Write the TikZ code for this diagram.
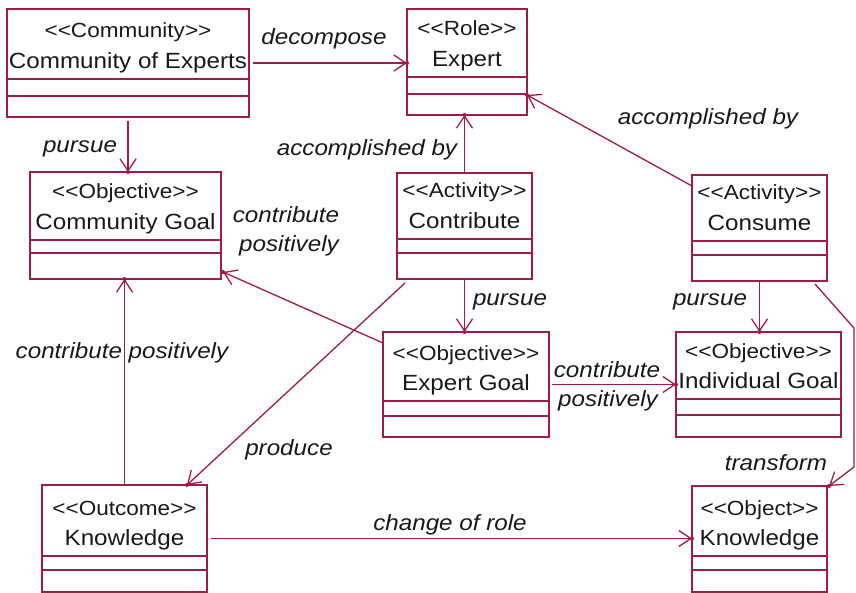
\documentclass[tikz,border=0pt]{standalone}
\usepackage{fontspec}
\setmainfont{Liberation Sans}[FakeStretch=1.1]
\usetikzlibrary{arrows.meta,decorations.markings}
\definecolor{umlred}{RGB}{160,28,72}
\definecolor{umltext}{RGB}{25,25,25}

\tikzset{
  classbox/.style={draw=umlred, line width=1.6pt, rectangle, inner sep=0pt, outer sep=0pt, anchor=north west},
  partline/.style={draw=umlred, line width=1.6pt},
  stereo/.style={anchor=base, inner sep=0pt, text=umltext, font=\fontsize{20.5}{22}\selectfont},
  classname/.style={anchor=base, inner sep=0pt, text=umltext, font=\fontsize{22}{24}\selectfont},
  assoc/.style={draw=umlred, line width=1.3pt, -{Straight Barb[length=12pt,width=16pt]},
    postaction={decorate},
    decoration={markings, mark=at position 1 with {\fill[umlred] circle (2pt);}}},
  role/.style={anchor=base, inner sep=0pt, text=umltext, font=\itshape\fontsize{22}{24}\selectfont},
}

% name, x1, y1, x2, y2, first divider, second divider, stereotype, class name
\newcommand\umlclass[9]{%
  \node[classbox, minimum width={(#4)-(#2)}, minimum height={(#5)-(#3)}] (#1) at (#2,#3) {};
  \draw[partline] (#2,#6) -- (#4,#6);
  \draw[partline] (#2,#7) -- (#4,#7);
  \node[stereo] (#1-st) at ({(#2+#4)/2},{#6-41}) {#8};
  \node[classname] (#1-nm) at ({(#2+#4)/2},{#6-10.5}) {#9};
}

\begin{document}
\begin{tikzpicture}[x=1pt,y=-1pt]
\fill[white] (0,0) rectangle (856,593);
\useasboundingbox (0,0) rectangle (856,593);

% classes
\umlclass{ce}{7}{9}{249}{117}{79}{96}{<{}<Community>{}>}{Community of Experts}
\umlclass{ex}{407}{9}{527}{115}{77}{94}{<{}<Role>{}>}{Expert}
\umlclass{cg}{30}{172}{221}{279}{240}{253}{<{}<Objective>{}>}{Community Goal}
\umlclass{co}{397}{173}{532}{279}{239}{253}{<{}<Activity>{}>}{Contribute}
\umlclass{cs}{692}{175}{827}{281}{241}{255}{<{}<Activity>{}>}{Consume}
\umlclass{eg}{383}{332}{549}{437}{401}{416}{<{}<Objective>{}>}{Expert Goal}
\umlclass{ig}{676}{332}{841}{437}{399}{415}{<{}<Objective>{}>}{Individual Goal}
\umlclass{ok}{692}{486}{827}{592}{556}{570}{<{}<Object>{}>}{Knowledge}
\umlclass{ou}{42}{485}{207}{592}{556}{570}{<{}<Outcome>{}>}{Knowledge}

% associations
\draw[assoc, shorten <=4pt] (ce.east) -- (ce.east -| ex.west);
\node[role] (l-dec) at (324,45) {decompose};

\draw[assoc, shorten <=4pt] (ce.south) -- (ce.south |- cg.north);
\node[role] (l-pu1) at (80,153) {pursue};

\draw[assoc] (co.north) -- (co.north |- ex.south);
\node[role] (l-ac1) at (367,156) {accomplished by};

\draw[assoc] ([yshift=-11pt]cs.north west) -- ([yshift=-86pt]ex.north east);
\node[role] (l-ac2) at (708,125) {accomplished by};

\draw[assoc] ([yshift=-11pt]eg.north west) -- ([xshift=2pt,yshift=7pt]cg.south east);
\node[role] (l-cp1a) at (286,223) {contribute};
\node[role] (l-cp1b) at (289,252) {positively};

\draw[assoc] (ou.north) -- (ou.north |- cg.south);
\node[role] (l-cp2) at (122,358) {contribute positively};

\draw[assoc] ([xshift=8pt,yshift=-4pt]co.south west) -- ([xshift=-20pt]ou.north east);
\node[role] (l-pro) at (289,455) {produce};

\draw[assoc] (co.south) -- (co.south |- eg.north);
\node[role] (l-pu2) at (510,306) {pursue};

\draw[assoc] (cs.south) -- (cs.south |- ig.north);
\node[role] (l-pu3) at (710,306) {pursue};

\draw[assoc, shorten <=3pt] (eg.east) -- (eg.east -| ig.west);
\node[role] (l-cp3a) at (607,377) {contribute};
\node[role] (l-cp3b) at (608,406) {positively};

\coordinate (tb1) at (854,328);
\coordinate (tb2) at (854,467);
\draw[assoc] ([xshift=-12pt,yshift=-3pt]cs.south east) -- (tb1) -- (tb2) -- ([xshift=2pt]ok.north east);
\node[role] (l-tr) at (776,470) {transform};

\draw[assoc, shorten <=4pt] (ou.east) -- (ou.east -| ok.west);
\node[role] (l-cr) at (450,530) {change of role};
\end{tikzpicture}
\end{document}
